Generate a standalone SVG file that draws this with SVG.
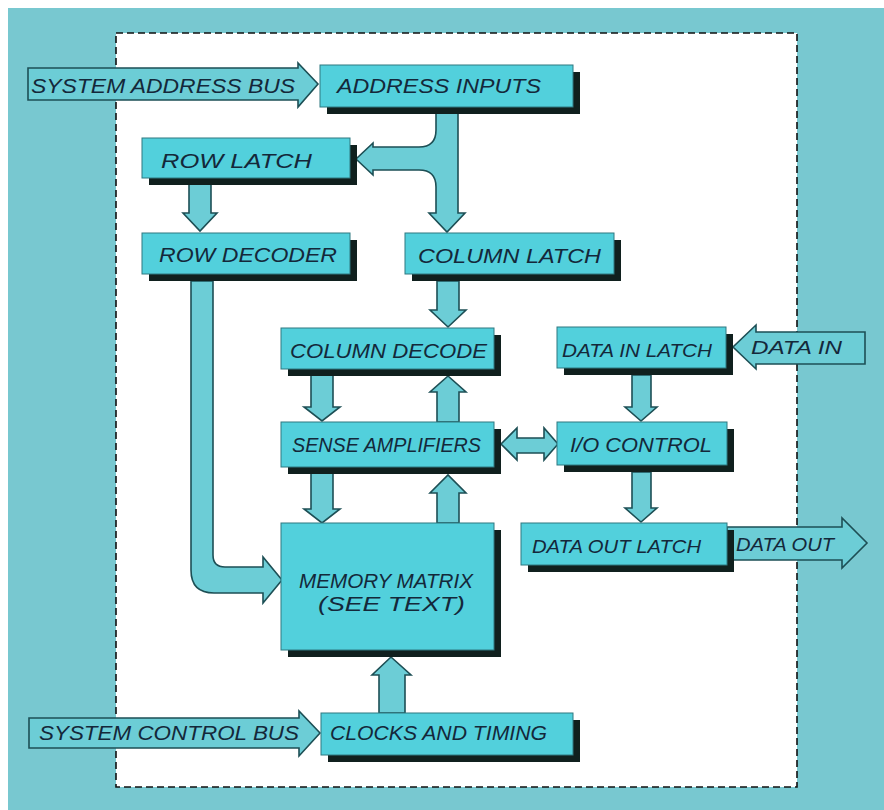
<svg xmlns="http://www.w3.org/2000/svg" width="884" height="810" viewBox="0 0 884 810">
<style>
.box{fill:#52d0dc;stroke:#2f7880;stroke-width:1}
.shd{fill:#10201e}
.arr{fill:#6ccdd6;stroke:#1d4f55;stroke-width:1.6;stroke-linejoin:miter}
.lbl{font-family:"Liberation Sans",Arial,sans-serif;font-style:italic;font-size:20px;fill:#14283a}
.sm{font-size:18px}
</style>
<rect x="0" y="0" width="884" height="810" fill="#ffffff"/>
<rect x="8" y="8" width="876" height="802" fill="#78c8d0"/>
<rect x="116" y="33" width="681" height="754" fill="#ffffff" stroke="#111" stroke-width="1.6" stroke-dasharray="7 4"/>
<g id="connectors">
<path class="arr" d="M28,68 H298 V63 L318,84 L298,107 V100 H28 Z"/>
<text class="lbl" x="31" y="93" textLength="264" lengthAdjust="spacingAndGlyphs">SYSTEM ADDRESS BUS</text>
<path class="arr" d="M436,107 V130 Q436,147 419,147 H373 V143 L356,159 L373,175 V170 H419 Q436,170 436,187 V213 H429 L447,232 L465,213 H458 V107 Z"/>
<path class="arr" d="M189,184 V213 H183 L200,231 L217,213 H211 V184 Z"/>
<path class="arr" d="M191,281 V570 Q191,593 214,593 H263 V603 L282,580 L263,557 V567 H225 Q213,567 213,555 V281 Z"/>
<path class="arr" d="M437,281 V310 H430 L448,327 L466,310 H459 V281 Z"/>
<path class="arr" d="M311,375 V407 H304 L322,421 L340,407 H333 V375 Z"/>
<path class="arr" d="M437,422 V392 H430 L448,376 L466,392 H459 V422 Z"/>
<path class="arr" d="M311,473 V509 H304 L322,523 L340,509 H333 V473 Z"/>
<path class="arr" d="M437,523 V493 H430 L448,475 L466,493 H459 V523 Z"/>
<path class="arr" d="M501,444 L517,428 V438 H544 V428 L558,444 L544,460 V453 H517 V460 Z"/>
<path class="arr" d="M632,375 V407 H625 L641,421 L657,407 H651 V375 Z"/>
<path class="arr" d="M632,472 V508 H625 L641,522 L657,508 H651 V472 Z"/>
<path class="arr" d="M865,332 H756 V325 L733,347 L756,369 V364 H865 Z"/>
<text class="lbl sm" x="751" y="354" textLength="91" lengthAdjust="spacingAndGlyphs">DATA IN</text>
<path class="arr" d="M727,527 H842 V518 L867,543 L842,568 V560 H727 Z"/>
<text class="lbl sm" x="736" y="551" textLength="98" lengthAdjust="spacingAndGlyphs">DATA OUT</text>
<path class="arr" d="M379,713 V675 H372 L391,657 L411,675 H405 V713 Z"/>
<path class="arr" d="M29,718 H299 V711 L320,733 L299,756 V748 H29 Z"/>
<text class="lbl" x="39" y="740" textLength="260" lengthAdjust="spacingAndGlyphs">SYSTEM CONTROL BUS</text>
</g>
<g id="address-inputs">
<rect class="shd" x="327" y="72" width="253" height="42"/>
<rect class="box" x="320" y="65" width="253" height="42"/>
<text class="lbl" x="337" y="93" textLength="204" lengthAdjust="spacingAndGlyphs">ADDRESS INPUTS</text>
</g>
<g id="row-latch">
<rect class="shd" x="149" y="145" width="208" height="40"/>
<rect class="box" x="142" y="138" width="208" height="40"/>
<text class="lbl" x="161" y="168" textLength="151" lengthAdjust="spacingAndGlyphs">ROW LATCH</text>
</g>
<g id="row-decoder">
<rect class="shd" x="149" y="240" width="208" height="41"/>
<rect class="box" x="142" y="233" width="208" height="41"/>
<text class="lbl" x="159" y="262" textLength="178" lengthAdjust="spacingAndGlyphs">ROW DECODER</text>
</g>
<g id="column-latch">
<rect class="shd" x="412" y="240" width="209" height="41"/>
<rect class="box" x="405" y="233" width="209" height="41"/>
<text class="lbl" x="418" y="263" textLength="183" lengthAdjust="spacingAndGlyphs">COLUMN LATCH</text>
</g>
<g id="column-decode">
<rect class="shd" x="288" y="335" width="213" height="41"/>
<rect class="box" x="281" y="328" width="213" height="41"/>
<text class="lbl" x="290" y="358" textLength="197" lengthAdjust="spacingAndGlyphs">COLUMN DECODE</text>
</g>
<g id="data-in-latch">
<rect class="shd" x="564" y="334" width="169" height="41"/>
<rect class="box" x="557" y="327" width="169" height="41"/>
<text class="lbl sm" x="562" y="357" textLength="150" lengthAdjust="spacingAndGlyphs">DATA IN LATCH</text>
</g>
<g id="sense-amplifiers">
<rect class="shd" x="288" y="429" width="213" height="45"/>
<rect class="box" x="281" y="422" width="213" height="45"/>
<text class="lbl" x="292" y="452" textLength="189" lengthAdjust="spacingAndGlyphs">SENSE AMPLIFIERS</text>
</g>
<g id="io-control">
<rect class="shd" x="564" y="429" width="170" height="43"/>
<rect class="box" x="557" y="422" width="170" height="43"/>
<text class="lbl" x="570" y="452" textLength="142" lengthAdjust="spacingAndGlyphs">I/O CONTROL</text>
</g>
<g id="data-out-latch">
<rect class="shd" x="528" y="530" width="206" height="42"/>
<rect class="box" x="521" y="523" width="206" height="42"/>
<text class="lbl sm" x="532" y="553" textLength="169" lengthAdjust="spacingAndGlyphs">DATA OUT LATCH</text>
</g>
<g id="memory-matrix">
<rect class="shd" x="288" y="530" width="213" height="127"/>
<rect class="box" x="281" y="523" width="213" height="127"/>
<text class="lbl" x="299" y="588" textLength="174" lengthAdjust="spacingAndGlyphs">MEMORY MATRIX</text>
<text class="lbl" x="318" y="611" textLength="147" lengthAdjust="spacingAndGlyphs">(SEE TEXT)</text>
</g>
<g id="clocks-and-timing">
<rect class="shd" x="328" y="720" width="252" height="42"/>
<rect class="box" x="321" y="713" width="252" height="42"/>
<text class="lbl" x="330" y="740" textLength="217" lengthAdjust="spacingAndGlyphs">CLOCKS AND TIMING</text>
</g>
</svg>
